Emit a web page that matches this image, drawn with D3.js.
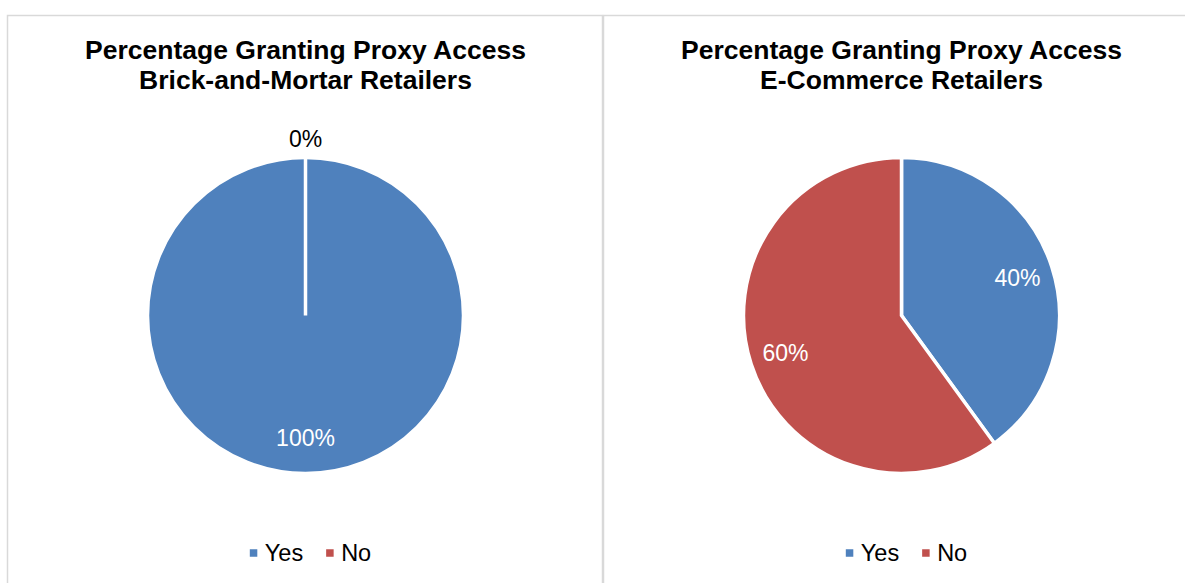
<!DOCTYPE html>
<html>
<head>
<meta charset="utf-8">
<script src="https://cdn.jsdelivr.net/npm/d3@7"></script>
<style>
  html, body { margin: 0; padding: 0; background: #ffffff; }
  svg { display: block; font-family: "Liberation Sans", Arial, sans-serif; }
</style>
</head>
<body>
<svg id="chart" width="1185" height="583"></svg>
<script>
// Survey answers, one pie per retailer type
const categories = ["Yes", "No"];
const brickValues = [100, 0];
const ecommerceValues = [40, 60];
const titleLine1 = "Percentage Granting Proxy Access";
const brickSubtitle = "Brick-and-Mortar Retailers";
const ecommerceSubtitle = "E-Commerce Retailers";

const colors = d3.scaleOrdinal().domain(categories).range(["#4f81bd", "#c0504d"]);

const svg = d3.select("#chart");

// Panel frames
const frames = [
  { x: 7.5, y: 15.5, w: 595, h: 600 },
  { x: 603.5, y: 15.5, w: 600, h: 600 }
];
svg.selectAll("rect.frame")
  .data(frames)
  .join("rect")
  .attr("class", "frame")
  .attr("x", d => d.x).attr("y", d => d.y)
  .attr("width", d => d.w).attr("height", d => d.h)
  .attr("fill", "none")
  .attr("stroke", "#d9d9d9")
  .attr("stroke-width", 1.5);

const radius = 158;
const labelRadius = 122;

const pie = d3.pie().sort(null).value(d => d.value).startAngle(0).endAngle(2 * Math.PI);
const arc = d3.arc().innerRadius(0).outerRadius(radius);
const labelArc = d3.arc().innerRadius(labelRadius).outerRadius(labelRadius);
const fmt = v => d3.format(".0f")(v) + "%";

function drawPanel(cx, subtitle, values) {
  const g = svg.append("g");

  // Title
  const title = g.append("text")
    .attr("text-anchor", "middle")
    .attr("font-size", 26.5)
    .attr("font-weight", "bold")
    .attr("fill", "#000");
  title.append("tspan").attr("x", cx).attr("y", 59).text(titleLine1);
  title.append("tspan").attr("x", cx).attr("y", 89).text(subtitle);

  const data = categories.map((c, i) => ({ category: c, value: values[i] }));
  const total = d3.sum(values);
  const arcs = pie(data);

  const pg = g.append("g").attr("transform", `translate(${cx},315.5)`);
  pg.selectAll("path")
    .data(arcs)
    .join("path")
    .attr("d", arc)
    .attr("fill", d => colors(d.data.category))
    .attr("stroke", "#ffffff")
    .attr("stroke-width", 3.5)
    .attr("stroke-linejoin", "miter");

  // Value labels: inside for visible slices, outside for empty ones
  pg.selectAll("text")
    .data(arcs)
    .join("text")
    .attr("transform", d => {
      if (d.value === 0) {
        const a = d.startAngle;
        const r = radius + 19;
        return `translate(${r * Math.sin(a)},${-r * Math.cos(a)})`;
      }
      const [x, y] = labelArc.centroid(d);
      return `translate(${x},${y})`;
    })
    .attr("dy", "0.36em")
    .attr("text-anchor", "middle")
    .attr("font-size", 23)
    .attr("fill", d => d.value === 0 ? "#000" : "#ffffff")
    .text(d => fmt(100 * d.value / total));

  // Legend
  const lg = g.append("g").attr("transform", "translate(0,553)");
  const items = lg.selectAll("g.item")
    .data(categories)
    .join("g")
    .attr("class", "item");
  items.append("rect")
    .attr("width", 7.5).attr("height", 7.5)
    .attr("y", -3.75)
    .attr("fill", d => colors(d));
  items.append("text")
    .attr("x", 15)
    .attr("dy", "0.36em")
    .attr("font-size", 23.5)
    .attr("fill", "#000")
    .text(d => d);
  const widths = [];
  items.each(function () {
    widths.push(15 + d3.select(this).select("text").node().getComputedTextLength());
  });
  const gap = 23;
  const totalW = d3.sum(widths) + gap * (widths.length - 1);
  let x = cx + 5 - totalW / 2;
  items.attr("transform", (d, i) => {
    const t = `translate(${x},0)`;
    x += widths[i] + gap;
    return t;
  });
}

drawPanel(305.5, brickSubtitle, brickValues);
drawPanel(901.5, ecommerceSubtitle, ecommerceValues);
</script>
</body>
</html>
